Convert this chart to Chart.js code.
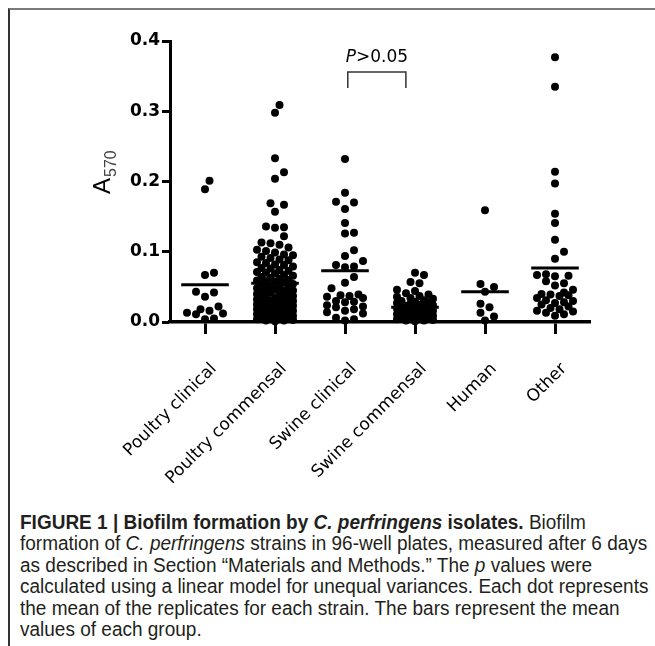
<!DOCTYPE html>
<html>
<head>
<meta charset="utf-8">
<script src="https://cdn.jsdelivr.net/npm/chart.js@4.4.1/dist/chart.umd.min.js"></script>
<style>
  html, body { margin: 0; padding: 0; background: #fff; }
  body { width: 655px; height: 646px; position: relative; overflow: hidden; }
  #frame { position: absolute; left: 8px; top: 8px; width: 700px; height: 700px;
           border-top: 2px solid #7a7a7a; border-left: 2px solid #333; }
  #chartWrap { position: absolute; left: 0; top: 0; width: 655px; height: 500px; }
  #caption { position: absolute; left: 20px; top: 512px; white-space: nowrap;
             font-family: "Liberation Sans Narrow", "Liberation Sans", Arial, sans-serif;
             font-size: 20px; line-height: 21.4px; color: #231f20;
             transform: scaleX(0.95); transform-origin: 0 0; }
</style>
</head>
<body>
<div id="frame"></div>
<div id="chartWrap"><canvas id="biofilmChart" width="655" height="500"></canvas></div>
<div id="caption"><b>FIGURE 1 | Biofilm formation by <i>C. perfringens</i> isolates.</b> Biofilm<br>formation of <i>C. perfringens</i> strains in 96-well plates, measured after 6 days<br>as described in Section “Materials and Methods.” The <i>p</i> values were<br>calculated using a linear model for unequal variances. Each dot represents<br>the mean of the replicates for each strain. The bars represent the mean<br>values of each group.</div>
<script>
// Biofilm A570 dot plot

const groups = ['Poultry clinical', 'Poultry commensal', 'Swine clinical', 'Swine commensal', 'Human', 'Other'];
const yTicks = [0, 0.1, 0.2, 0.3, 0.4];

const poultryClinical = [0.201, 0.189, 0.070, 0.067, 0.043, 0.042, 0.036, 0.022, 0.018, 0.016, 0.013, 0.012, 0.011, 0.005, 0.004];
const poultryCommensal = [0.309, 0.298, 0.233, 0.213, 0.204, 0.169, 0.167, 0.157, 0.136, 0.135, 0.134, 0.122, 0.113, 0.112, 0.110,
    0.106, 0.103, 0.101, 0.099, 0.096, 0.095, 0.093, 0.091, 0.089, 0.088, 0.085, 0.084, 0.082, 0.081, 0.079, 0.077,
    0.076, 0.074, 0.073, 0.071, 0.070, 0.069, 0.067, 0.066, 0.064, 0.063, 0.062, 0.060, 0.059, 0.058, 0.057, 0.056,
    0.054, 0.053, 0.052, 0.050, 0.049, 0.048, 0.047, 0.046, 0.045, 0.044, 0.043, 0.042, 0.041, 0.040, 0.039, 0.038,
    0.037, 0.036, 0.035, 0.034, 0.033, 0.032, 0.031, 0.031, 0.030, 0.029, 0.028, 0.027, 0.027, 0.026, 0.025, 0.024,
    0.024, 0.023, 0.022, 0.021, 0.021, 0.020, 0.019, 0.018, 0.018, 0.017, 0.016, 0.015, 0.015, 0.014, 0.013, 0.012,
    0.012, 0.011, 0.010, 0.009, 0.009, 0.008, 0.007, 0.006, 0.006, 0.005, 0.004, 0.004, 0.003, 0.002, 0.002, 0.001];
const swineClinical = [0.232, 0.184, 0.171, 0.170, 0.161, 0.141, 0.127, 0.126, 0.102, 0.094, 0.087, 0.081, 0.079, 0.078,
    0.064, 0.056, 0.048, 0.039, 0.038, 0.037, 0.036, 0.034, 0.030, 0.029, 0.028, 0.024, 0.022, 0.021, 0.018, 0.016,
    0.014, 0.012, 0.006, 0.004, 0.002];
const swineCommensal = [0.070, 0.067, 0.057, 0.055, 0.046, 0.044, 0.041, 0.039, 0.037, 0.036, 0.034, 0.033, 0.031, 0.030,
    0.029, 0.028, 0.027, 0.026, 0.025, 0.024, 0.023, 0.022, 0.021, 0.020, 0.019, 0.019, 0.018, 0.017, 0.016, 0.015,
    0.014, 0.014, 0.013, 0.012, 0.011, 0.011, 0.010, 0.009, 0.008, 0.008, 0.007, 0.006, 0.006, 0.005, 0.004, 0.004,
    0.003, 0.002, 0.002, 0.001];
const human = [0.159, 0.054, 0.050, 0.043, 0.026, 0.021, 0.013, 0.008, 0.002];
const other = [0.377, 0.335, 0.214, 0.197, 0.154, 0.141, 0.117, 0.100, 0.090, 0.068, 0.067, 0.066, 0.065, 0.058, 0.055,
    0.052, 0.046, 0.042, 0.040, 0.039, 0.038, 0.037, 0.034, 0.031, 0.030, 0.028, 0.027, 0.025, 0.022, 0.020, 0.018,
    0.016, 0.015, 0.013, 0.011, 0.009];

// group means as drawn by the bars
const groupMeans = [0.053, 0.055, 0.073, 0.021, 0.043, 0.077];

const seriesByGroup = [poultryClinical, poultryCommensal, swineClinical, swineCommensal, human, other];

// plot area in canvas pixels
const AREA = { left: 170, right: 590, top: 41, bottom: 322 };
const pxPerCat = (AREA.right - AREA.left) / groups.length;
const pxPerUnit = (AREA.bottom - AREA.top) / 0.4;

// simple beeswarm so dots sit side by side like the GraphPad plot
function swarmOffsets(values) {
    const D = 8.6, step = 4.5, maxOff = 18;
    const order = values.map((v, i) => i).sort((a, b) => values[a] - values[b]);
    const cands = [0];
    for (let k = step; k <= maxOff + 0.01; k += step) cands.push(k, -k);
    const placed = [];
    const off = new Array(values.length).fill(0);
    order.forEach(i => {
        const y = values[i] * pxPerUnit;
        let best = 0, bestD = -1;
        for (const c of cands) {
            let m = Infinity;
            for (const p of placed) {
                if (Math.abs(p.y - y) >= D) continue;
                const d = Math.hypot(p.x - c, p.y - y);
                if (d < m) m = d;
            }
            if (m >= D) { best = c; break; }
            if (m > bestD) { bestD = m; best = c; }
        }
        placed.push({ x: best, y });
        off[i] = best / pxPerCat;
    });
    return off;
}

const dotPoints = [];
seriesByGroup.forEach((vals, g) => {
    const off = swarmOffsets(vals);
    vals.forEach((v, i) => dotPoints.push({ x: g + off[i], y: v }));
});

const meanSets = groupMeans.map((m, g) => ({
    type: 'line',
    data: [{ x: g - 0.34, y: m }, { x: g + 0.34, y: m }],
    showLine: true,
    borderColor: '#000',
    borderWidth: 3,
    pointRadius: 0,
    clip: false
}));

// A570 title and the P>0.05 bracket
const extras = {
    id: 'extras',
    afterDraw(chart) {
        const ctx = chart.ctx;
        const xs = chart.scales.x, ys = chart.scales.y;
        ctx.save();
        ctx.fillStyle = '#000';
        ctx.translate(110, 194);
        ctx.rotate(-Math.PI / 2);
        ctx.font = '24px "Liberation Sans", Arial, sans-serif';
        ctx.textBaseline = 'alphabetic';
        ctx.fillText('A', 0, 0);
        const wA = ctx.measureText('A').width;
        ctx.fillStyle = '#444';
        ctx.font = '16px "Liberation Sans", Arial, sans-serif';
        ctx.fillText('570', wA + 1, 6);
        ctx.restore();

        const x1 = xs.getPixelForValue(2.04), x2 = xs.getPixelForValue(2.87);
        const yTop = ys.getPixelForValue(0.356), yBot = ys.getPixelForValue(0.333);
        ctx.save();
        ctx.strokeStyle = '#333';
        ctx.lineWidth = 1.5;
        ctx.beginPath();
        ctx.moveTo(x1, yBot); ctx.lineTo(x1, yTop); ctx.lineTo(x2, yTop); ctx.lineTo(x2, yBot);
        ctx.stroke();
        const cx = (x1 + x2) / 2, ty = ys.getPixelForValue(0.377);
        ctx.fillStyle = '#000';
        ctx.textBaseline = 'middle';
        ctx.font = 'italic 17px "DejaVu Sans", sans-serif';
        const wP = ctx.measureText('P').width;
        ctx.font = '17px "DejaVu Sans", sans-serif';
        const wR = ctx.measureText('>0.05').width;
        const sx = cx - (wP + wR) / 2;
        ctx.font = 'italic 17px "DejaVu Sans", sans-serif';
        ctx.fillText('P', sx, ty);
        ctx.font = '17px "DejaVu Sans", sans-serif';
        ctx.fillText('>0.05', sx + wP, ty);
        ctx.restore();
    }
};

new Chart(document.getElementById('biofilmChart').getContext('2d'), {
    type: 'scatter',
    data: {
        datasets: [
            {
                data: dotPoints,
                backgroundColor: '#000',
                borderWidth: 0,
                pointRadius: 4,
                clip: false
            },
            ...meanSets
        ]
    },
    options: {
        responsive: false,
        animation: false,
        layout: { padding: { top: AREA.top, right: 655 - AREA.right, left: 0, bottom: 0 } },
        plugins: { legend: { display: false }, tooltip: { enabled: false } },
        scales: {
            x: {
                type: 'linear',
                min: -0.5,
                max: groups.length - 0.5,
                afterBuildTicks: s => { s.ticks = groups.map((g, i) => ({ value: i })); },
                afterFit: s => { s.height = 500 - AREA.bottom; },
                grid: { drawOnChartArea: false, drawTicks: true, tickLength: 12, tickWidth: 3, tickColor: '#000' },
                border: { color: '#000', width: 3.5 },
                ticks: {
                    autoSkip: false,
                    minRotation: 45,
                    maxRotation: 45,
                    color: '#000',
                    padding: 25,
                    labelOffset: 9,
                    font: { family: '"DejaVu Sans", sans-serif', size: 17 },
                    callback: v => groups[v]
                }
            },
            y: {
                min: 0,
                max: 0.4,
                afterBuildTicks: s => { s.ticks = yTicks.map(v => ({ value: v })); },
                afterFit: s => { s.width = AREA.left; },
                grid: { drawOnChartArea: false, drawTicks: true, tickLength: 8, tickWidth: 3, tickColor: '#000' },
                border: { color: '#000', width: 3 },
                ticks: {
                    color: '#000',
                    padding: 2,
                    font: { family: '"DejaVu Sans", sans-serif', size: 17, weight: 'bold' },
                    callback: v => v.toFixed(1)
                }
            }
        }
    },
    plugins: [extras]
});
</script>
</body>
</html>
